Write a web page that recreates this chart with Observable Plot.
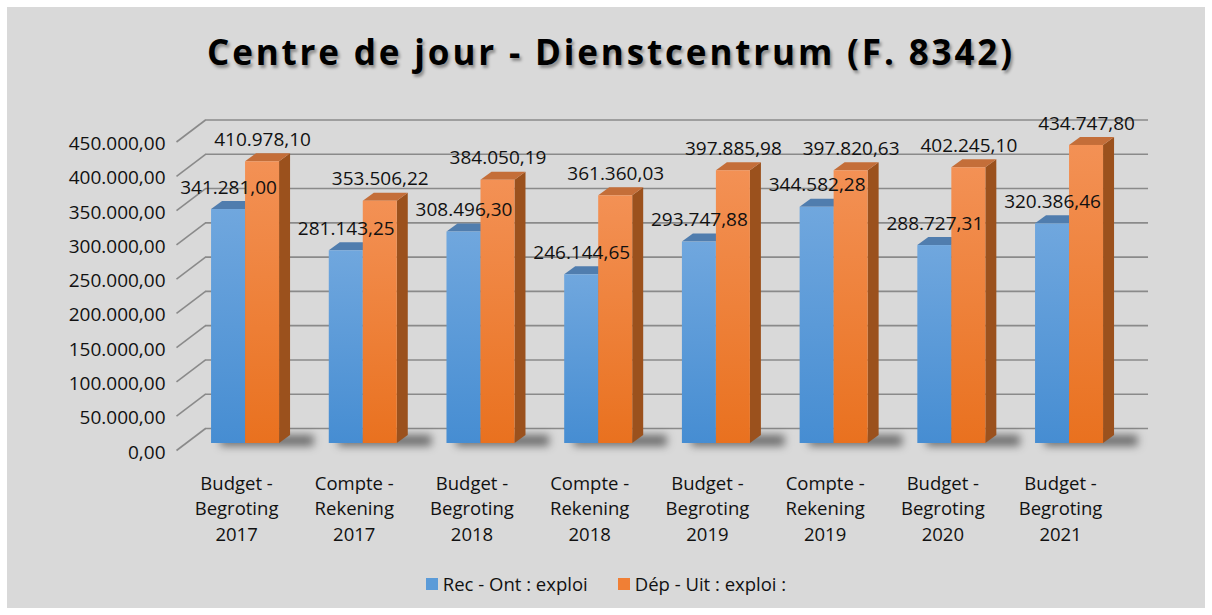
<!DOCTYPE html>
<html><head><meta charset="utf-8">
<script src="https://cdn.jsdelivr.net/npm/d3@7"></script>
<script src="https://cdn.jsdelivr.net/npm/@observablehq/plot@0.6"></script>
<style>
body{margin:0;background:#fff;font-family:"Open Sans",sans-serif}
#wrap{position:relative;width:1212px;height:615px;background:#fff;overflow:hidden}
#bg{position:absolute;left:7px;top:7px;width:1198px;height:601px;background:#d9d9d9}
#title{position:absolute;left:207px;top:32px;white-space:nowrap;font-weight:700;font-size:35px;line-height:40px;color:#000;text-shadow:2px 3px 3px rgba(0,0,0,0.35)}
#chart{position:absolute;left:0;top:100px}
#legend{position:absolute;left:0;top:573px;width:1212px;display:flex;justify-content:center;gap:30px;font-size:18.5px;line-height:22px;color:#111}
#legend .it{display:flex;align-items:center;gap:5px}
#legend .sw{width:12px;height:12px;display:inline-block}
</style>
</head><body>
<div id="wrap">
  <div id="bg"></div>
  <div id="title">Centre de jour - Dienstcentrum (F. 8342)</div>
  <div id="chart"></div>
  <div id="legend"></div>
</div>
<script>
// ---- data ----
const categories = [
  "Budget -\nBegroting\n2017", "Compte -\nRekening\n2017",
  "Budget -\nBegroting\n2018", "Compte -\nRekening\n2018",
  "Budget -\nBegroting\n2019", "Compte -\nRekening\n2019",
  "Budget -\nBegroting\n2020", "Budget -\nBegroting\n2021"
];
const recValues = [341281.00, 281143.25, 308496.30, 246144.65, 293747.88, 344582.28, 288727.31, 320386.46];
const depValues = [410978.10, 353506.22, 384050.19, 361360.03, 397885.98, 397820.63, 402245.10, 434747.80];
const seriesNames = ["Rec - Ont : exploi", "Dép - Uit : exploi :"];
const yTicks = [0, 50000, 100000, 150000, 200000, 250000, 300000, 350000, 400000, 450000];

// ---- formatting ----
const loc = d3.formatLocale({decimal: ",", thousands: ".", grouping: [3], currency: ["", ""]});
const fmt = loc.format(",.2f");

// ---- geometry helpers (pixel conversions) ----
const PX = 450000 / 308.5;        // data units per pixel (y)
const STEP = 117.71;              // pixels per category (x)
const W = 34 / STEP, DX = 11 / STEP, DY = 8 * PX;

function barRows(values, s) {
  return values.map((v, i) => ({
    id: s + "-" + i, i, v,
    x1: s === 0 ? i + 0.5 - W : i + 0.5,
    x2: s === 0 ? i + 0.5 : i + 0.5 + W
  }));
}
function sideRows(rows) {
  return rows.flatMap(r => [
    {id: r.id, x: r.x2, y1: 0, y2: r.v},
    {id: r.id, x: r.x2 + DX, y1: DY, y2: r.v + DY}
  ]);
}
function topRows(rows) {
  return rows.flatMap(r => [
    {id: r.id, x: r.x1, y1: r.v, y2: r.v},
    {id: r.id, x: r.x1 + DX, y1: r.v, y2: r.v + DY},
    {id: r.id, x: r.x2, y1: r.v, y2: r.v + DY},
    {id: r.id, x: r.x2 + DX, y1: r.v + DY, y2: r.v + DY}
  ]);
}
const blue = barRows(recValues, 0);
const orange = barRows(depValues, 1);
const groups = categories.map((c, i) => ({i}));

const GRID = "#8a8a8a";
const TXT = "#111";

const plot = Plot.plot({
  width: 1212, height: 460,
  marginLeft: 186.2, marginRight: 84.1, marginTop: 34.5, marginBottom: 117,
  x: {type: "linear", domain: [0, 8], axis: null},
  y: {domain: [0, 450000], axis: null},
  style: {fontFamily: '"Open Sans", sans-serif', background: "transparent", overflow: "visible", color: TXT},
  marks: [
    // back wall gridlines
    Plot.ruleY(yTicks, {y: d => d + 15 * PX, x1: 0.16, x2: 8.171, stroke: GRID, strokeWidth: 1.6}),
    // left wall diagonals
    Plot.link(yTicks, {x1: -0.0867, x2: 0.16, y1: d => d - 7 * PX, y2: d => d + 15 * PX, stroke: GRID, strokeWidth: 1.6}),
    // floor shadow (first rect mark; blurred below)
    Plot.rect(groups, {x1: d => d.i + 0.5 - W + 0.08, x2: d => d.i + 0.5 + W + DX + 0.2, y1: -3 * PX, y2: 8 * PX,
      fill: "#000", fillOpacity: 0.5}),
    // blue bars
    Plot.areaY(sideRows(blue), {x: "x", y1: "y1", y2: "y2", z: "id", fill: "#3f6f9f", curve: "linear"}),
    Plot.areaY(topRows(blue), {x: "x", y1: "y1", y2: "y2", z: "id", fill: "#507dae", curve: "linear"}),
    Plot.rect(blue, {x1: "x1", x2: "x2", y1: 0, y2: "v", fill: "url(#gBlue)"}),
    // orange bars
    Plot.areaY(sideRows(orange), {x: "x", y1: "y1", y2: "y2", z: "id", fill: "#9b511d", curve: "linear"}),
    Plot.areaY(topRows(orange), {x: "x", y1: "y1", y2: "y2", z: "id", fill: "#c46e39", curve: "linear"}),
    Plot.rect(orange, {x1: "x1", x2: "x2", y1: 0, y2: "v", fill: "url(#gOrange)"}),
    // y tick labels
    Plot.text(yTicks, {x: -0.18, y: d => d, dy: 9, text: d => fmt(d), textAnchor: "end", fontSize: 19, fill: TXT}),
    // category labels
    Plot.text(categories, {x: (d, i) => i + 0.5, y: 0, text: d => d, dx: -9, dy: 28, lineAnchor: "top", lineHeight: 1.38, fontSize: 18.5, fill: TXT}),
    // value labels
    Plot.text(blue, {x: d => (d.x1 + d.x2) / 2, y: "v", text: d => fmt(d.v), dy: -22, fontSize: 19, fill: TXT}),
    Plot.text(orange, {x: d => (d.x1 + d.x2) / 2, y: "v", text: d => fmt(d.v), dy: -22, fontSize: 19, fill: TXT})
  ]
});

// gradients and blur filter
const defs = d3.create("svg:defs");
function grad(id, c0, c1) {
  const g = defs.append("linearGradient").attr("id", id).attr("x1", 0).attr("y1", 0).attr("x2", 0).attr("y2", 1);
  g.append("stop").attr("offset", "0%").attr("stop-color", c0);
  g.append("stop").attr("offset", "100%").attr("stop-color", c1);
}
grad("gBlue", "#70a7de", "#468dd2");
grad("gOrange", "#f39155", "#e9711f");
defs.append("filter").attr("id", "shadowBlur")
  .attr("filterUnits", "userSpaceOnUse").attr("x", 0).attr("y", 0).attr("width", 1212).attr("height", 460)
  .append("feGaussianBlur").attr("stdDeviation", 4);
plot.insertBefore(defs.node(), plot.firstChild);
const rectGroups = plot.querySelectorAll('g[aria-label="rect"]');
if (rectGroups.length) rectGroups[0].setAttribute("filter", "url(#shadowBlur)");
document.getElementById("chart").appendChild(plot);

// legend
const legend = d3.select("#legend");
const legendColors = ["#5b9bd8", "#f07f35"];
seriesNames.forEach((n, k) => {
  const it = legend.append("div").attr("class", "it");
  it.append("span").attr("class", "sw").style("background", legendColors[k]);
  it.append("span").text(n);
});

// title width fit
const t = document.getElementById("title");
const n = t.textContent.length;
const w0 = t.getBoundingClientRect().width;
t.style.letterSpacing = ((805 - w0) / (n - 1)) + "px";
</script>
</body></html>
